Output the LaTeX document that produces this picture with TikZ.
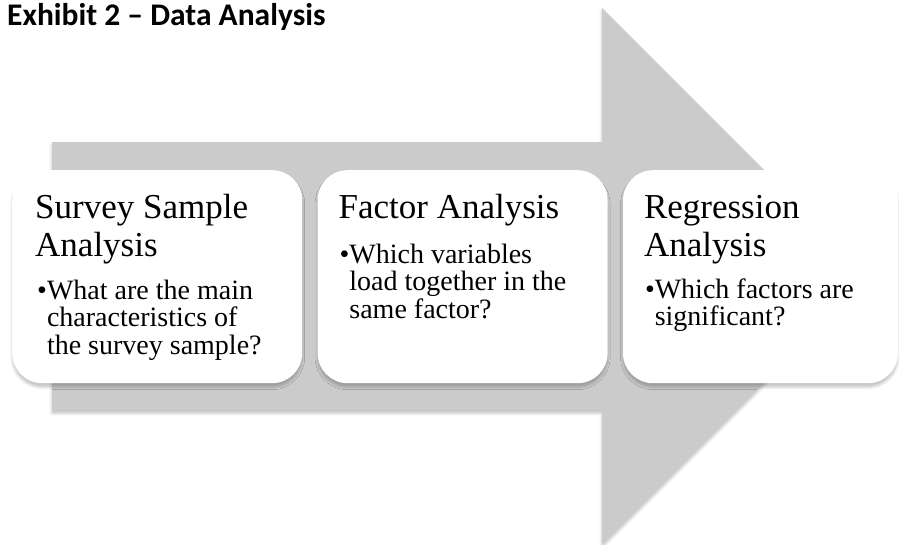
\documentclass[tikz,border=0pt]{standalone}
\usepackage{fontspec}
\setmainfont{Liberation Serif}
\newfontfamily\titlefont{Carlito}
\definecolor{arrowgray}{HTML}{CBCBCB}
\usetikzlibrary{positioning, calc, shadows.blur}

\begin{document}
\begin{tikzpicture}[
  x=1pt, y=-1pt,
  node distance=15pt,
  stage/.style={fill=white, rounded corners=30pt, minimum width=290pt,
                minimum height=213pt, inner sep=0pt,
                blur shadow={shadow xshift=0pt, shadow yshift=-4pt,
                             shadow blur radius=2.5pt, shadow opacity=22}},
  heading/.style={anchor=base west, inner sep=0pt, align=left,
                  font=\fontsize{35}{38}\selectfont},
  point/.style={anchor=base west, inner sep=0pt,
                font=\fontsize{28}{27}\selectfont}
]
\useasboundingbox (0,0) rectangle (899,544);

\node[anchor=base west, inner sep=0pt, font=\titlefont\bfseries\fontsize{31.5}{33}\selectfont]
  (title) at (7,25) {Exhibit 2 \textendash\ Data Analysis};

% big arrow behind the stages
\fill[arrowgray, blur shadow={shadow xshift=0pt, shadow yshift=-3pt,
                              shadow blur radius=3pt, shadow opacity=25}]
  (52,142) -- (602,142) -- (602,8) -- (870,276) -- (602,544)
  -- (602,410) -- (52,410) -- cycle;

\node[stage, anchor=north west] (survey) at (12,170) {};
\node[stage, right=of survey] (factor) {};
\node[stage, right=of factor, minimum width=275pt] (regression) {};

\node[heading] (surveyhead) at ($(survey.north west)+(23,86)$)
  {Survey Sample\\Analysis};
\node[point] (surveypoint) at ($(survey.north west)+(25,129)$)
  {\begin{tabular}[t]{@{}l@{}l@{}}\textbullet\hspace{4pt}&What are the main\\
   &characteristics of\\ &the survey sample?\end{tabular}};

\node[heading] (factorhead) at ($(factor.north west)+(21,48)$)
  {Factor Analysis};
\node[point] (factorpoint) at ($(factor.north west)+(22,93)$)
  {\begin{tabular}[t]{@{}l@{}l@{}}\textbullet\hspace{4pt}&Which variables\\
   &load together in the\\ &same factor?\end{tabular}};

\node[heading] (regressionhead) at ($(regression.north west)+(21,86)$)
  {Regression\\Analysis};
\node[point] (regressionpoint) at ($(regression.north west)+(22,128)$)
  {\begin{tabular}[t]{@{}l@{}l@{}}\textbullet\hspace{4pt}&Which factors are\\
   &significant?\end{tabular}};

\end{tikzpicture}
\end{document}
